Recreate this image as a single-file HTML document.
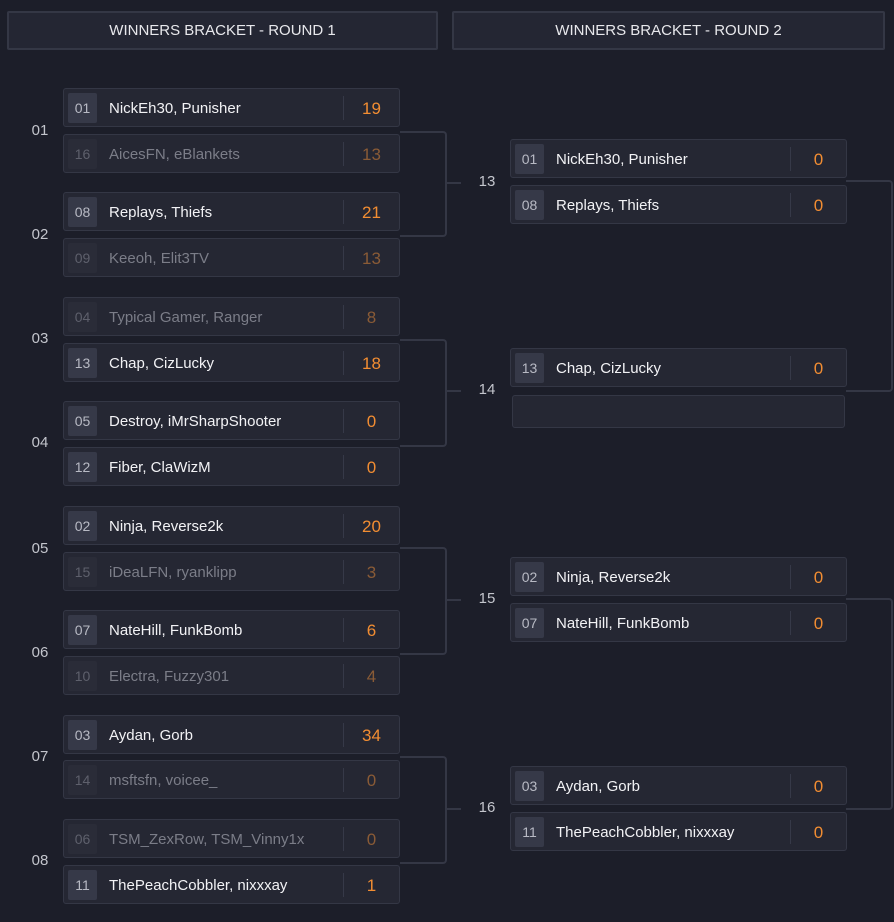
<!DOCTYPE html>
<html><head><meta charset="utf-8"><style>
body{margin:0;width:894px;height:922px;background:#1c1e29;font-family:"Liberation Sans",sans-serif;position:relative;overflow:hidden}
.h{position:absolute;top:11px;height:35px;border:2px solid #343745;background:#242633;color:#e8e8ec;font-size:15px;line-height:36px;text-align:center;border-radius:2px}
.b{position:absolute;width:335px;height:37px;border:1px solid #343745;background:#252733;border-radius:3px}
.s{position:absolute;left:4px;top:4px;width:29px;height:30px;background:#363948;border-radius:2px;color:#b8bac4;font-size:14px;line-height:30px;text-align:center}
.n{position:absolute;left:45px;top:0;line-height:40px;font-size:15px;color:#f2f2f5}
.d{position:absolute;left:279px;top:7px;width:1px;height:24px;background:#363948}
.sc{position:absolute;left:280px;width:55px;top:0;line-height:40px;font-size:17px;color:#f28d32;text-align:center}
.l .s{background:#2a2c38;color:#5e606c}.l .n{color:#7b7d88}.l .sc{color:#8a5b36}
.lb{position:absolute;color:#c3c5cc;font-size:15px;width:30px;text-align:center}
.c{position:absolute;border:2px solid #343745;border-left:none;border-radius:0 4px 4px 0}
.hl{position:absolute;height:2px;background:#343745}
</style></head><body>
<div class="h" style="left:7px;width:427px">WINNERS BRACKET - ROUND 1</div>
<div class="h" style="left:452px;width:429px">WINNERS BRACKET - ROUND 2</div>

<div class="c" style="left:400px;top:131px;width:45px;height:102px"></div><div class="hl" style="left:447px;width:14px;top:182px"></div>
<div class="c" style="left:400px;top:339px;width:45px;height:104px"></div><div class="hl" style="left:447px;width:14px;top:390px"></div>
<div class="c" style="left:400px;top:547px;width:45px;height:104px"></div><div class="hl" style="left:447px;width:14px;top:599px"></div>
<div class="c" style="left:400px;top:756px;width:45px;height:104px"></div><div class="hl" style="left:447px;width:14px;top:808px"></div>
<div class="c" style="left:846px;top:180px;width:45px;height:208px"></div>
<div class="c" style="left:846px;top:598px;width:45px;height:208px"></div>

<div class="lb" style="left:25px;top:122px">01</div>
<div class="lb" style="left:25px;top:226px">02</div>
<div class="lb" style="left:25px;top:330px">03</div>
<div class="lb" style="left:25px;top:434px">04</div>
<div class="lb" style="left:25px;top:540px">05</div>
<div class="lb" style="left:25px;top:644px">06</div>
<div class="lb" style="left:25px;top:748px">07</div>
<div class="lb" style="left:25px;top:852px">08</div>
<div class="lb" style="left:472px;top:173px">13</div>
<div class="lb" style="left:472px;top:381px">14</div>
<div class="lb" style="left:472px;top:590px">15</div>
<div class="lb" style="left:472px;top:799px">16</div>

<div class="b" style="left:63px;top:88px"><div class="s">01</div><div class="n">NickEh30, Punisher</div><div class="d"></div><div class="sc">19</div></div>
<div class="b l" style="left:63px;top:134px"><div class="s">16</div><div class="n">AicesFN, eBlankets</div><div class="d"></div><div class="sc">13</div></div>
<div class="b" style="left:63px;top:192px"><div class="s">08</div><div class="n">Replays, Thiefs</div><div class="d"></div><div class="sc">21</div></div>
<div class="b l" style="left:63px;top:238px"><div class="s">09</div><div class="n">Keeoh, Elit3TV</div><div class="d"></div><div class="sc">13</div></div>
<div class="b l" style="left:63px;top:297px"><div class="s">04</div><div class="n">Typical Gamer, Ranger</div><div class="d"></div><div class="sc">8</div></div>
<div class="b" style="left:63px;top:343px"><div class="s">13</div><div class="n">Chap, CizLucky</div><div class="d"></div><div class="sc">18</div></div>
<div class="b" style="left:63px;top:401px"><div class="s">05</div><div class="n">Destroy, iMrSharpShooter</div><div class="d"></div><div class="sc">0</div></div>
<div class="b" style="left:63px;top:447px"><div class="s">12</div><div class="n">Fiber, ClaWizM</div><div class="d"></div><div class="sc">0</div></div>
<div class="b" style="left:63px;top:506px"><div class="s">02</div><div class="n">Ninja, Reverse2k</div><div class="d"></div><div class="sc">20</div></div>
<div class="b l" style="left:63px;top:552px"><div class="s">15</div><div class="n">iDeaLFN, ryanklipp</div><div class="d"></div><div class="sc">3</div></div>
<div class="b" style="left:63px;top:610px"><div class="s">07</div><div class="n">NateHill, FunkBomb</div><div class="d"></div><div class="sc">6</div></div>
<div class="b l" style="left:63px;top:656px"><div class="s">10</div><div class="n">Electra, Fuzzy301</div><div class="d"></div><div class="sc">4</div></div>
<div class="b" style="left:63px;top:715px"><div class="s">03</div><div class="n">Aydan, Gorb</div><div class="d"></div><div class="sc">34</div></div>
<div class="b l" style="left:63px;top:760px"><div class="s">14</div><div class="n">msftsfn, voicee_</div><div class="d"></div><div class="sc">0</div></div>
<div class="b l" style="left:63px;top:819px"><div class="s">06</div><div class="n">TSM_ZexRow, TSM_Vinny1x</div><div class="d"></div><div class="sc">0</div></div>
<div class="b" style="left:63px;top:865px"><div class="s">11</div><div class="n">ThePeachCobbler, nixxxay</div><div class="d"></div><div class="sc">1</div></div>

<div class="b" style="left:510px;top:139px"><div class="s">01</div><div class="n">NickEh30, Punisher</div><div class="d"></div><div class="sc">0</div></div>
<div class="b" style="left:510px;top:185px"><div class="s">08</div><div class="n">Replays, Thiefs</div><div class="d"></div><div class="sc">0</div></div>
<div class="b" style="left:510px;top:348px"><div class="s">13</div><div class="n">Chap, CizLucky</div><div class="d"></div><div class="sc">0</div></div>
<div class="b" style="left:512px;top:395px;width:331px;height:31px"></div>
<div class="b" style="left:510px;top:557px"><div class="s">02</div><div class="n">Ninja, Reverse2k</div><div class="d"></div><div class="sc">0</div></div>
<div class="b" style="left:510px;top:603px"><div class="s">07</div><div class="n">NateHill, FunkBomb</div><div class="d"></div><div class="sc">0</div></div>
<div class="b" style="left:510px;top:766px"><div class="s">03</div><div class="n">Aydan, Gorb</div><div class="d"></div><div class="sc">0</div></div>
<div class="b" style="left:510px;top:812px"><div class="s">11</div><div class="n">ThePeachCobbler, nixxxay</div><div class="d"></div><div class="sc">0</div></div>
</body></html>
